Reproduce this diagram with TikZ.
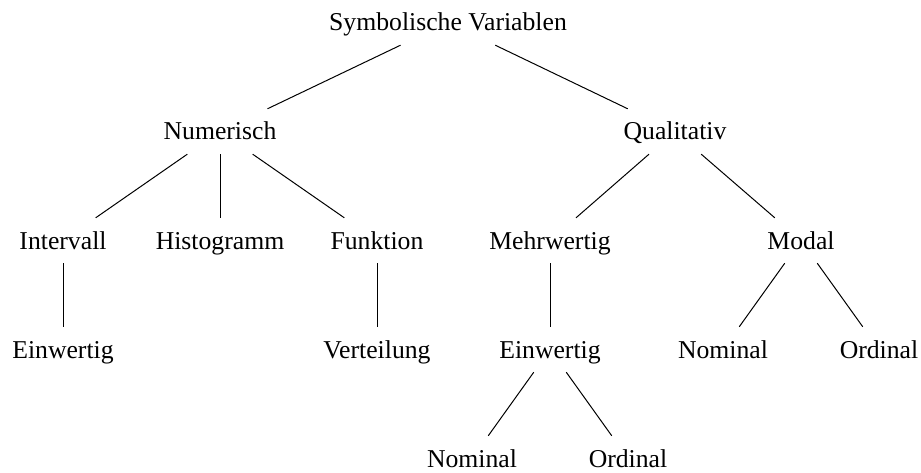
\documentclass[tikz,border=0pt]{standalone}
\usepackage{fontspec}
\setmainfont{Liberation Serif}
\begin{document}
\begin{tikzpicture}[x=1pt,y=-1pt,
  term/.style={anchor=base,inner sep=0pt,text height=31pt,text depth=14pt,
    font=\fontsize{25.7}{30}\selectfont},
  edge/.style={line width=1pt}]
\useasboundingbox (0,0) rectangle (921,473);
% level 1
\node[term] (root) at (448,31) {Symbolische Variablen};
% level 2
\node[term] (num) at (220,140) {Numerisch};
\node[term] (qual) at (675,140) {Qualitativ};
% level 3
\node[term] (intv) at (63,249) {Intervall};
\node[term] (hist) at (220,249) {Histogramm};
\node[term] (funk) at (377,249) {Funktion};
\node[term] (mehr) at (550,249) {Mehrwertig};
\node[term] (modal) at (801,249) {Modal};
% level 4
\node[term] (einwA) at (63,358) {Einwertig};
\node[term] (vert) at (377,358) {Verteilung};
\node[term] (einwB) at (550,358) {Einwertig};
\node[term] (nomA) at (723,358) {Nominal};
\node[term] (ordA) at (879,358) {Ordinal};
% level 5
\node[term] (nomB) at (472,467) {Nominal};
\node[term] (ordB) at (628,467) {Ordinal};
% edges
\draw[edge] (root) -- (num);
\draw[edge] (root) -- (qual);
\draw[edge] (num) -- (intv);
\draw[edge] (num) -- (hist);
\draw[edge] (num) -- (funk);
\draw[edge] (qual) -- (mehr);
\draw[edge] (qual) -- (modal);
\draw[edge] (intv) -- (einwA);
\draw[edge] (funk) -- (vert);
\draw[edge] (mehr) -- (einwB);
\draw[edge] (modal) -- (nomA);
\draw[edge] (modal) -- (ordA);
\draw[edge] (einwB) -- (nomB);
\draw[edge] (einwB) -- (ordB);
\end{tikzpicture}
\end{document}
